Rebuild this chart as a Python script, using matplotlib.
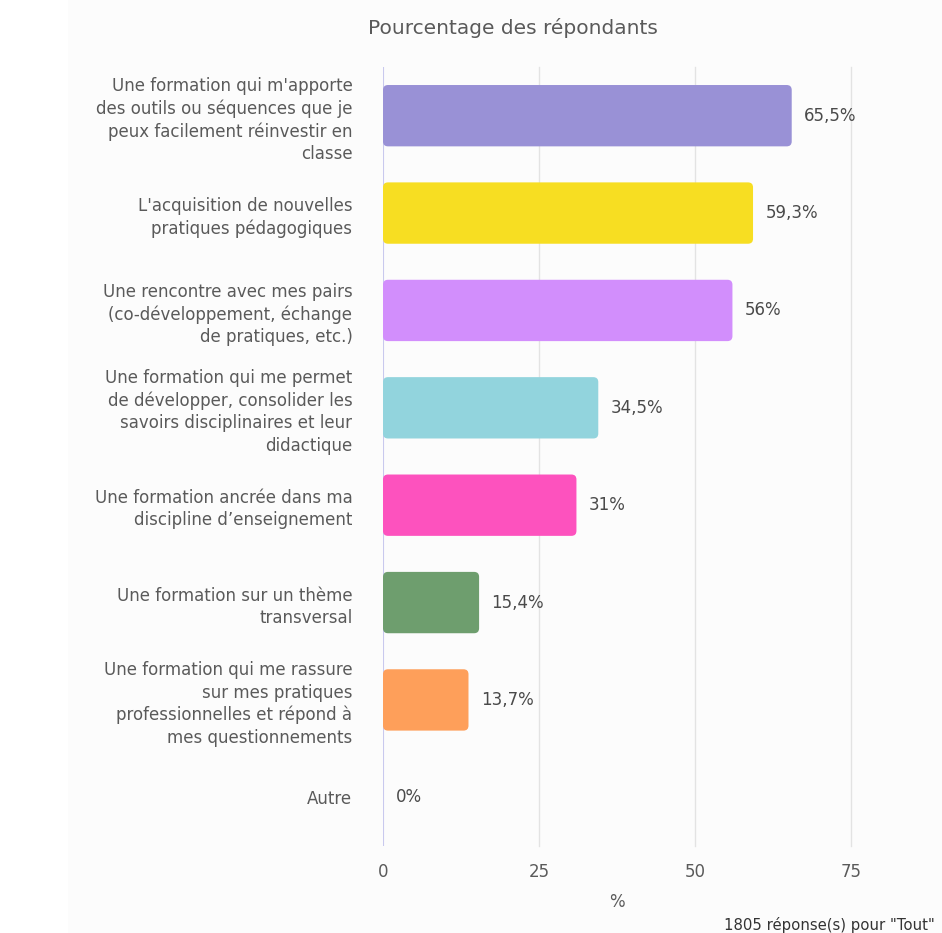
import numpy as np
import matplotlib
matplotlib.use("Agg")
import matplotlib.pyplot as plt
from matplotlib.patches import FancyBboxPatch, Rectangle

categories = [
    "Une formation qui m'apporte\ndes outils ou séquences que je\npeux facilement réinvestir en\nclasse",
    "L'acquisition de nouvelles\npratiques pédagogiques",
    "Une rencontre avec mes pairs\n(co-développement, échange\nde pratiques, etc.)",
    "Une formation qui me permet\nde développer, consolider les\nsavoirs disciplinaires et leur\ndidactique",
    "Une formation ancrée dans ma\ndiscipline d’enseignement",
    "Une formation sur un thème\ntransversal",
    "Une formation qui me rassure\nsur mes pratiques\nprofessionnelles et répond à\nmes questionnements",
    "Autre",
]
values = [65.5, 59.3, 56, 34.5, 31, 15.4, 13.7, 0]
value_labels = ["65,5%", "59,3%", "56%", "34,5%", "31%", "15,4%", "13,7%", "0%"]
colors = ["#9991d6", "#f7de22", "#d28efc", "#92d4dd", "#fd52be", "#6e9e6e", "#fe9f5a", "#cccccc"]
xticks = [0, 25, 50, 75]

plt.rcParams.update({"font.family": "DejaVu Sans", "font.size": 12})
TXT = "#5a5a5a"
XMAX = 75

fig = plt.figure(figsize=(9.42, 9.33), dpi=100, facecolor="white")
fig.patches.append(Rectangle((68 / 942, 0), 1, 1, transform=fig.transFigure,
                             facecolor="#fcfcfc", edgecolor="none", zorder=-10))
ax = fig.add_axes([383 / 942, 87 / 933, (851 - 383) / 942, (866 - 87) / 933])
ax.set_facecolor("none")

y = np.arange(len(categories))
bars = ax.barh(y, values, height=0.63, color=colors)
# swap square bars for rounded ones (aspect-corrected corners)
px_x = ax.get_position().width * 942 / XMAX
px_y = ax.get_position().height * 933 / 8
for b, c in zip(bars, colors):
    b.set_visible(False)
    if b.get_width() <= 0:
        continue
    r = 5 / px_x
    ax.add_patch(FancyBboxPatch((b.get_x(), b.get_y()), b.get_width(), b.get_height(),
                                boxstyle=f"round,pad=0,rounding_size={r}",
                                mutation_aspect=px_x / px_y,
                                facecolor=c, edgecolor="none", zorder=3, clip_on=False))

for yi, v, lab in zip(y, values, value_labels):
    ax.text(v + 2.0, yi, lab, va="center", ha="left", color="#4a4a4a", fontsize=12,
            zorder=4, clip_on=False)

ax.set_xlim(0, XMAX)
ax.set_ylim(len(categories) - 0.5, -0.5)
ax.set_yticks(y)
ax.set_yticklabels(categories, color=TXT, fontsize=12, linespacing=1.3)
ax.set_xticks(xticks)
ax.set_xticklabels([str(t) for t in xticks], color=TXT, fontsize=12)
ax.tick_params(axis="both", length=0)
ax.tick_params(axis="y", pad=22)
ax.tick_params(axis="x", pad=12)
for t in xticks[1:]:
    ax.axvline(t, color="#e3e3e3", lw=1, zorder=0, clip_on=False)
ax.axvline(0, color="#c9c9ee", lw=1.5, zorder=1)
for s in ax.spines.values():
    s.set_visible(False)

ax.set_xlabel("%", color=TXT, fontsize=12, labelpad=9)
fig.text(513 / 942, 1 - 28 / 933, "Pourcentage des répondants", ha="center", va="center",
         color=TXT, fontsize=14.5)
fig.text(935 / 942, 1 - 925 / 933, "1805 réponse(s) pour \"Tout\"", ha="right", va="center",
         color="#333333", fontsize=10.7)

fig.savefig("out.png", dpi=100, facecolor="white")
